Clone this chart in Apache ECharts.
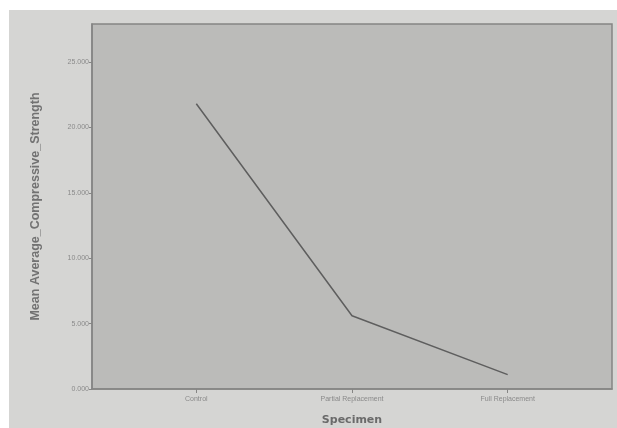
<!DOCTYPE html>
<html>
<head>
<meta charset="utf-8">
<script src="https://cdn.jsdelivr.net/npm/echarts@6/dist/echarts.min.js"></script>
<style>
  html, body { margin: 0; padding: 0; background: #ffffff; }
  #main { width: 617px; height: 428px; }
</style>
</head>
<body>
<div id="main"></div>
<script>
// Specimen categories and mean compressive strength
var categories = ['Control', 'Partial Replacement', 'Full Replacement']
var strength = [21.8, 5.6, 1.1]
var yTicks = [0, 5, 10, 15, 20, 25]

var chart = echarts.init(document.getElementById('main'))

// positions 0,1,2 on a value axis so the categories sit inside a wider frame
var points = strength.map(function (v, i) {
  return [i, v]
})
var catIndex = categories.map(function (c, i) {
  return i
})

var option = {
  backgroundColor: '#d5d5d3',
  animation: false,
  graphic: [
    { type: 'rect', left: 0, top: 0, shape: { width: 617, height: 10 }, style: { fill: '#ffffff' }, silent: true },
    { type: 'rect', left: 0, top: 0, shape: { width: 9, height: 428 }, style: { fill: '#ffffff' }, silent: true },
  ],
  grid: {
    left: 92,
    right: 5,
    top: 24,
    bottom: 39,
    outerBoundsMode: 'none',
    show: true,
    backgroundColor: '#bbbbb9',
    borderColor: '#858584',
    borderWidth: 1.5,
  },
  xAxis: {
    type: 'value',
    min: -0.67,
    max: 2.67,
    name: 'Specimen',
    nameLocation: 'center',
    nameGap: 26,
    nameTextStyle: {
      fontFamily: 'DejaVu Sans',
      fontWeight: 'bold',
      fontSize: 11,
      color: '#6a6a6a',
    },
    splitLine: { show: false },
    axisLine: { show: true, onZero: false, lineStyle: { color: '#858584', width: 1.5 } },
    axisTick: {
      show: true,
      length: 4,
      customValues: catIndex,
      lineStyle: { color: '#858584' },
    },
    axisLabel: {
      customValues: catIndex,
      fontFamily: 'Liberation Sans',
      fontSize: 7,
      color: '#8a8a8a',
      margin: 7,
      formatter: function (v) {
        return categories[Math.round(v)]
      },
    },
  },
  yAxis: {
    type: 'value',
    min: 0,
    max: 27.9,
    name: 'Mean Average_Compressive_Strength',
    nameLocation: 'center',
    nameGap: 50,
    nameTextStyle: {
      fontFamily: 'Liberation Sans',
      fontWeight: 'bold',
      fontSize: 12.5,
      color: '#727272',
    },
    splitLine: { show: false },
    axisLine: { show: true, onZero: false, lineStyle: { color: '#858584', width: 1.5 } },
    axisTick: {
      show: true,
      length: 3,
      customValues: yTicks,
      lineStyle: { color: '#858584' },
    },
    axisLabel: {
      customValues: yTicks,
      fontFamily: 'Liberation Sans',
      fontSize: 7,
      color: '#8a8a8a',
      margin: 3,
      formatter: function (v) {
        return v.toFixed(3)
      },
    },
  },
  series: [
    {
      name: 'Mean Average_Compressive_Strength',
      type: 'line',
      data: points,
      showSymbol: false,
      lineStyle: { color: '#5e5e5e', width: 1.5 },
    },
  ],
}

chart.setOption(option)
</script>
</body>
</html>
